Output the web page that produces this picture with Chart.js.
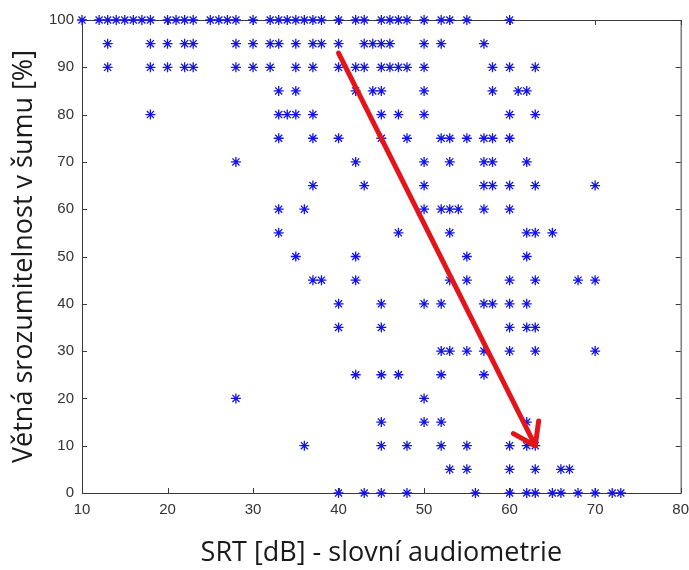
<!DOCTYPE html>
<html>
<head>
<meta charset="utf-8">
<script src="https://cdn.jsdelivr.net/npm/chart.js@4.4.1/dist/chart.umd.min.js"></script>
<style>
    html, body { margin: 0; padding: 0; background: #fff; }
    #wrap { width: 689px; height: 570px; }
</style>
</head>
<body>
<div id="wrap"><canvas id="srtChart"></canvas></div>
<script>
// Score levels on the y axis (sentence intelligibility in noise, %)
const scoreLevels = [100, 95, 90, 85, 80, 75, 70, 65, 60, 55, 50, 45, 40, 35, 30, 25, 20, 15, 10, 5, 0];

// SRT [dB] of every patient at each score level
const srtAt100 = [10, 12, 13, 14, 15, 16, 17, 18, 20, 21, 22, 23, 25, 26, 27, 28, 30, 32, 33, 34, 35, 36, 37, 38, 40, 42, 43, 45, 46, 47, 48, 50, 52, 53, 55, 60];
const srtAt95 = [13, 18, 20, 22, 23, 28, 30, 32, 33, 35, 37, 38, 40, 43, 44, 45, 46, 50, 52, 57];
const srtAt90 = [13, 18, 20, 22, 23, 28, 30, 32, 35, 37, 40, 42, 43, 45, 46, 47, 48, 50, 58, 60, 63];
const srtAt85 = [33, 35, 42, 44, 45, 50, 58, 61, 62];
const srtAt80 = [18, 33, 34, 35, 37, 45, 47, 50, 60, 63];
const srtAt75 = [33, 37, 40, 45, 48, 52, 53, 55, 57, 58, 60];
const srtAt70 = [28, 42, 50, 53, 57, 58, 62];
const srtAt65 = [37, 43, 50, 57, 58, 60, 63, 70];
const srtAt60 = [33, 36, 50, 52, 53, 54, 57, 60];
const srtAt55 = [33, 47, 53, 62, 63, 65];
const srtAt50 = [35, 42, 55, 62];
const srtAt45 = [37, 38, 42, 53, 55, 60, 63, 68, 70];
const srtAt40 = [40, 45, 50, 52, 57, 58, 60, 62];
const srtAt35 = [40, 45, 60, 62, 63];
const srtAt30 = [52, 53, 55, 57, 60, 63, 70];
const srtAt25 = [42, 45, 47, 52, 57];
const srtAt20 = [28, 50];
const srtAt15 = [45, 50, 52, 62];
const srtAt10 = [36, 45, 48, 52, 55, 60, 62, 63];
const srtAt5 = [53, 55, 60, 63, 66, 67];
const srtAt0 = [40, 43, 45, 48, 56, 60, 62, 63, 65, 66, 68, 70, 72, 73];

const srtByLevel = [srtAt100, srtAt95, srtAt90, srtAt85, srtAt80, srtAt75, srtAt70,
    srtAt65, srtAt60, srtAt55, srtAt50, srtAt45, srtAt40, srtAt35, srtAt30, srtAt25,
    srtAt20, srtAt15, srtAt10, srtAt5, srtAt0];

// Trend arrow (start -> tip)
const arrowSrt = [40, 63];
const arrowScore = [93, 10];

// Axis ticks
const xTicks = [10, 20, 30, 40, 50, 60, 70, 80];
const yTicks = [0, 10, 20, 30, 40, 50, 60, 70, 80, 90, 100];

const points = [];
scoreLevels.forEach((level, i) => {
    srtByLevel[i].forEach(srt => points.push({ x: srt, y: level }));
});

const arrowPoints = arrowSrt.map((x, i) => ({ x: x, y: arrowScore[i] }));

const axisColor = '#3a3a3a';
const tickFont = { family: "'Liberation Sans Narrow', 'Liberation Sans', Arial, sans-serif", size: 15 };
const titleFont = { family: "'Open Sans', 'Noto Sans', sans-serif", size: 27 };

// Box around the plot with inward ticks on all four sides
const framePlugin = {
    id: 'frame',
    beforeDatasetsDraw(chart) {
        const { ctx, chartArea: a, scales } = chart;
        const len = 5;
        ctx.save();
        ctx.strokeStyle = axisColor;
        ctx.lineWidth = 1;
        ctx.strokeRect(a.left + 0.5, a.top + 0.5, a.right - a.left, a.bottom - a.top);
        ctx.beginPath();
        xTicks.forEach(v => {
            const px = Math.round(scales.x.getPixelForValue(v)) + 0.5;
            ctx.moveTo(px, a.bottom);
            ctx.lineTo(px, a.bottom - len);
            ctx.moveTo(px, a.top);
            ctx.lineTo(px, a.top + len);
        });
        yTicks.forEach(v => {
            const py = Math.round(scales.y.getPixelForValue(v)) + 0.5;
            ctx.moveTo(a.left, py);
            ctx.lineTo(a.left + len, py);
            ctx.moveTo(a.right, py);
            ctx.lineTo(a.right - len, py);
        });
        ctx.stroke();
        ctx.restore();
    }
};

// Arrow head at the end of the trend line
const arrowHeadPlugin = {
    id: 'arrowHead',
    afterDatasetsDraw(chart) {
        const { ctx, scales } = chart;
        const x0 = scales.x.getPixelForValue(arrowSrt[0]);
        const y0 = scales.y.getPixelForValue(arrowScore[0]);
        const x1 = scales.x.getPixelForValue(arrowSrt[1]);
        const y1 = scales.y.getPixelForValue(arrowScore[1]);
        const angle = Math.atan2(y0 - y1, x0 - x1);
        const headLen = 25;
        const spread = 0.6;
        ctx.save();
        ctx.strokeStyle = '#e3151b';
        ctx.lineWidth = 5;
        ctx.lineCap = 'round';
        ctx.lineJoin = 'round';
        ctx.beginPath();
        ctx.moveTo(x1 + headLen * Math.cos(angle + spread), y1 + headLen * Math.sin(angle + spread));
        ctx.lineTo(x1, y1);
        ctx.lineTo(x1 + headLen * Math.cos(angle - spread), y1 + headLen * Math.sin(angle - spread));
        ctx.stroke();
        ctx.restore();
    }
};

new Chart(document.getElementById('srtChart'), {
    type: 'scatter',
    data: {
        datasets: [{
            label: 'Pacienti',
            data: points,
            pointStyle: 'star',
            pointRadius: 5,
            pointBorderWidth: 1.3,
            borderColor: '#1414e6',
            backgroundColor: '#1414e6',
            clip: false,
            order: 2
        }, {
            label: 'Trend',
            data: arrowPoints,
            showLine: true,
            borderColor: '#e3151b',
            borderWidth: 5,
            borderCapStyle: 'round',
            pointRadius: 0,
            clip: false,
            order: 1
        }]
    },
    options: {
        responsive: true,
        maintainAspectRatio: false,
        animation: false,
        layout: { padding: { top: 20, right: 6, left: 0, bottom: 0 } },
        plugins: {
            legend: { display: false },
            tooltip: { enabled: false }
        },
        scales: {
            x: {
                min: 10,
                max: 80,
                border: { display: false },
                grid: { display: false },
                afterBuildTicks: scale => { scale.ticks = xTicks.map(v => ({ value: v })); },
                afterFit: scale => { scale.height = 77; },
                ticks: { font: tickFont, color: '#333', padding: 0, maxRotation: 0 },
                title: {
                    display: true,
                    text: 'SRT [dB] - slovní audiometrie',
                    font: titleFont,
                    color: '#1a1a1a',
                    padding: { top: 0, bottom: 0 }
                }
            },
            y: {
                min: 0,
                max: 100,
                border: { display: false },
                grid: { display: false },
                afterBuildTicks: scale => { scale.ticks = yTicks.map(v => ({ value: v })); },
                afterFit: scale => { scale.width = 82; },
                ticks: { font: tickFont, color: '#333', padding: 0 },
                title: {
                    display: true,
                    text: 'Větná srozumitelnost v šumu [%]',
                    font: titleFont,
                    color: '#1a1a1a',
                    padding: { top: 8, bottom: 0 }
                }
            }
        }
    },
    plugins: [framePlugin, arrowHeadPlugin]
});
</script>
</body>
</html>
